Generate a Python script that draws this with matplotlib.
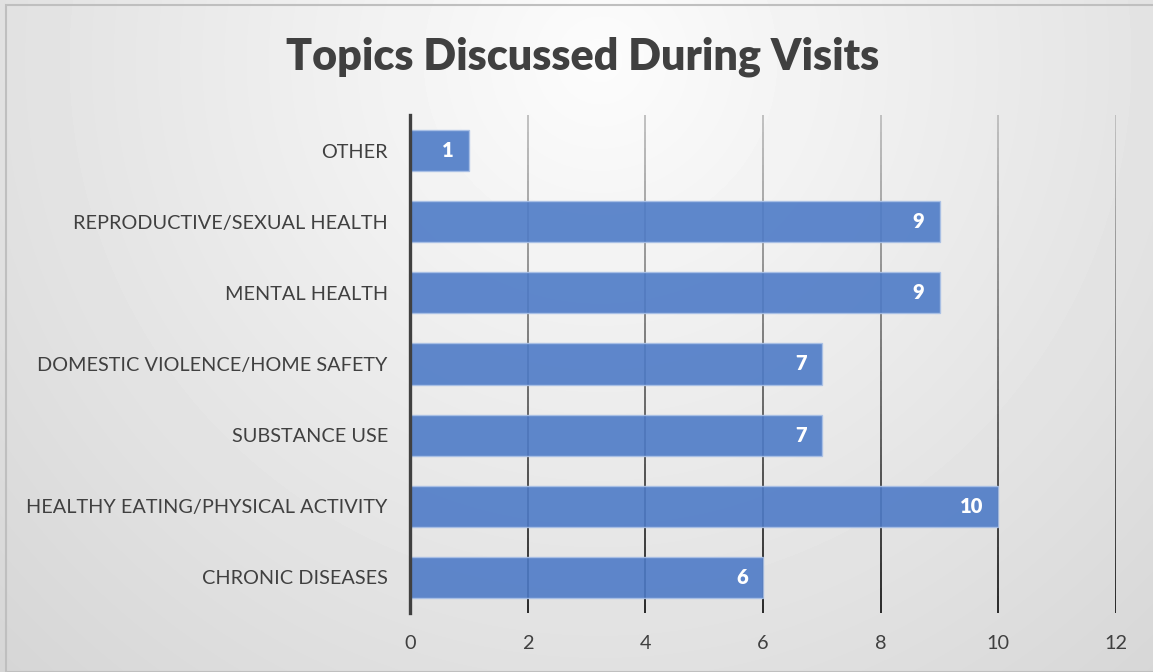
import numpy as np
import matplotlib.pyplot as plt
from matplotlib.collections import LineCollection
from matplotlib.patches import Rectangle

# data, bottom to top as drawn
topics = ["CHRONIC DISEASES", "HEALTHY EATING/PHYSICAL ACTIVITY", "SUBSTANCE USE",
          "DOMESTIC VIOLENCE/HOME SAFETY", "MENTAL HEALTH",
          "REPRODUCTIVE/SEXUAL HEALTH", "OTHER"]
counts = [6, 10, 7, 7, 9, 9, 1]
xticks = [0, 2, 4, 6, 8, 10, 12]

FONT = "Lato"
W, H = 1153, 672
fig = plt.figure(figsize=(W / 100, H / 100), dpi=100)

# radial grey background like the Excel chart area
yy, xx = np.mgrid[0:H, 0:W]
dist = np.hypot(xx - 600, yy - 60)
shade = np.clip(252 - 0.045 * dist, 0, 255) / 255
bg = fig.add_axes([0, 0, 1, 1], zorder=0)
bg.imshow(shade, cmap="gray", vmin=0, vmax=1, aspect="auto", interpolation="bilinear")
bg.axis("off")
fig.patches.append(Rectangle((6 / W, 0), 1, 1 - 5 / H, transform=fig.transFigure,
                             fill=False, edgecolor="#bfbfbf", lw=1.5))

ax = fig.add_axes([410 / W, 1 - 613 / H, 706 / W, 498 / H], zorder=1)
ax.patch.set_alpha(0)
ypos = np.arange(len(topics))
ax.set_xlim(0, 12)
ax.set_ylim(-0.5, len(topics) - 0.5)

# gridlines fading from light grey (top) to near black (bottom)
segs, cols = [], []
n = 60
ys = np.linspace(-0.5, len(topics) - 0.5, n + 1)
for xv in xticks[1:]:
    for i in range(n):
        segs.append([(xv, ys[i]), (xv, ys[i + 1])])
        t = i / n  # 0 at bottom
        g = 0.1 + 0.65 * t
        cols.append((g, g, g))
ax.add_collection(LineCollection(segs, colors=cols, linewidths=1.3, zorder=1))

bars = ax.barh(ypos, counts, height=0.58, color="#4e7bc7", alpha=0.9,
               edgecolor="#a9c0e6", linewidth=1, zorder=2)
for b, v in zip(bars, counts):
    ax.text(v - 0.26, b.get_y() + b.get_height() / 2, str(v), ha="right", va="center",
            color="white", fontsize=14.5, fontweight="heavy", family=FONT, zorder=3)

ax.set_yticks(ypos)
ax.set_yticklabels(topics, fontsize=14.3, color="#404040", family=FONT)
ax.set_xticks(xticks)
ax.set_xticklabels([str(x) for x in xticks], fontsize=14.3, color="#404040", family=FONT)
ax.tick_params(axis="both", length=0)
ax.tick_params(axis="y", pad=16)
ax.tick_params(axis="x", pad=16)
for s in ["top", "right", "bottom"]:
    ax.spines[s].set_visible(False)
ax.spines["left"].set_color("#404040")
ax.spines["left"].set_linewidth(2.4)
ax.spines["left"].set_zorder(4)

fig.text(583 / W, 1 - 57 / H, "Topics Discussed During Visits", ha="center", va="center",
         fontsize=31, fontweight="heavy", color="#404040", family=FONT)

fig.savefig("out.png", dpi=100)
